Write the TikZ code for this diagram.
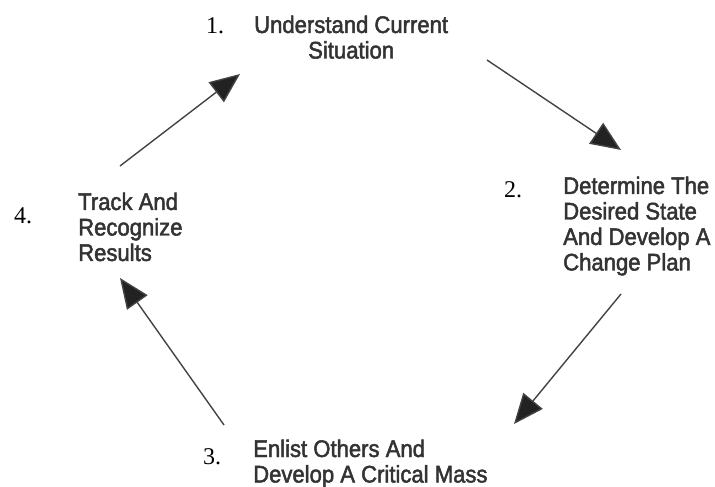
\documentclass[tikz,border=0pt]{standalone}
\usepackage{fontspec}
\usetikzlibrary{arrows.meta}
\newfontfamily\labelfont[FakeStretch=0.92,FakeBold=2]{Liberation Sans}
\newfontfamily\numfont{Liberation Serif}
\definecolor{txt}{HTML}{333333}
\definecolor{arr}{HTML}{222222}
\tikzset{
  itemtext/.style={anchor=base west, inner sep=0pt, text=txt,
    font=\labelfont\fontsize{24bp}{25.5bp}\selectfont},
  numtext/.style={anchor=base west, inner sep=0pt, text=black,
    font=\numfont\fontsize{24bp}{26bp}\selectfont},
  cyclearrow/.style={draw=arr!85, line width=1.4bp,
    -{Triangle[length=30bp,width=25bp,fill=arr]}}
}
\begin{document}
\begin{tikzpicture}[x=1bp,y=-1bp]
\useasboundingbox (0,0) rectangle (715,487);
% numbers
\node[numtext] (k1) at (206,34) {1.};
\node[numtext] (k2) at (504,198) {2.};
\node[numtext] (k3) at (203,464) {3.};
\node[numtext] (k4) at (14,224) {4.};
% step texts
\node[itemtext] (s1) at (254,33) {\begin{tabular}[t]{@{}c@{}}Understand Current\\Situation\end{tabular}};
\node[itemtext] (s2) at (563,194) {\begin{tabular}[t]{@{}l@{}}Determine The\\Desired State\\And Develop A\\Change Plan\end{tabular}};
\node[itemtext] (s3) at (253,457) {\begin{tabular}[t]{@{}l@{}}Enlist Others And\\Develop A Critical Mass\end{tabular}};
\node[itemtext] (s4) at (78,210) {\begin{tabular}[t]{@{}l@{}}Track And\\Recognize\\Results\end{tabular}};
% arrow ends
\coordinate (a1s) at (120,166); \coordinate (a1e) at (240,74);
\coordinate (a2s) at (487,60);  \coordinate (a2e) at (621,150);
\coordinate (a3s) at (621,294); \coordinate (a3e) at (514,424);
\coordinate (a4s) at (224,425); \coordinate (a4e) at (120,278);
\draw[cyclearrow] (a1s) -- (a1e);
\draw[cyclearrow] (a2s) -- (a2e);
\draw[cyclearrow] (a3s) -- (a3e);
\draw[cyclearrow] (a4s) -- (a4e);
\end{tikzpicture}
\end{document}
